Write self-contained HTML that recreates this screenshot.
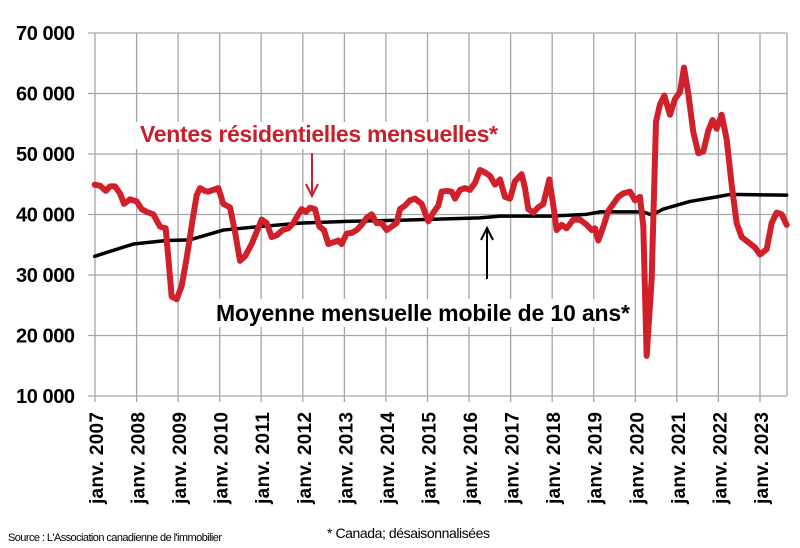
<!DOCTYPE html>
<html><head><meta charset="utf-8"><style>
html,body{margin:0;padding:0;background:#fff;}
svg{display:block;font-family:"Liberation Sans",sans-serif;}
</style></head><body>
<svg width="800" height="548" viewBox="0 0 800 548" xmlns="http://www.w3.org/2000/svg">
<rect width="800" height="548" fill="#fff"/>
<g stroke="#a6a6a6" stroke-width="1.3">
<line x1="88" y1="33" x2="787" y2="33"/><line x1="88" y1="93.5" x2="787" y2="93.5"/><line x1="88" y1="154" x2="787" y2="154"/><line x1="88" y1="214.5" x2="787" y2="214.5"/><line x1="88" y1="275" x2="787" y2="275"/><line x1="88" y1="335.5" x2="787" y2="335.5"/><line x1="88" y1="396" x2="787" y2="396"/>
<line x1="787" y1="33" x2="787" y2="396"/>
<line x1="95" y1="33" x2="95" y2="402"/><line x1="136.6" y1="33" x2="136.6" y2="402"/><line x1="178.1" y1="33" x2="178.1" y2="402"/><line x1="219.7" y1="33" x2="219.7" y2="402"/><line x1="261.2" y1="33" x2="261.2" y2="402"/><line x1="302.8" y1="33" x2="302.8" y2="402"/><line x1="344.4" y1="33" x2="344.4" y2="402"/><line x1="385.9" y1="33" x2="385.9" y2="402"/><line x1="427.5" y1="33" x2="427.5" y2="402"/><line x1="469" y1="33" x2="469" y2="402"/><line x1="510.6" y1="33" x2="510.6" y2="402"/><line x1="552.2" y1="33" x2="552.2" y2="402"/><line x1="593.7" y1="33" x2="593.7" y2="402"/><line x1="635.3" y1="33" x2="635.3" y2="402"/><line x1="676.8" y1="33" x2="676.8" y2="402"/><line x1="718.4" y1="33" x2="718.4" y2="402"/><line x1="760" y1="33" x2="760" y2="402"/>
</g>
<g font-weight="bold" font-size="20" text-anchor="end" fill="#000">
<text x="75" y="40" textLength="59">70 000</text><text x="75" y="100.5" textLength="59">60 000</text><text x="75" y="161" textLength="59">50 000</text><text x="75" y="221.5" textLength="59">40 000</text><text x="75" y="282" textLength="59">30 000</text><text x="75" y="342.5" textLength="59">20 000</text><text x="75" y="403" textLength="59">10 000</text>
</g>
<g font-weight="bold" font-size="19" fill="#000">
<text transform="translate(103,504) rotate(-90)" textLength="92">janv. 2007</text>
<text transform="translate(144.6,504) rotate(-90)" textLength="92">janv. 2008</text>
<text transform="translate(186.1,504) rotate(-90)" textLength="92">janv. 2009</text>
<text transform="translate(227.7,504) rotate(-90)" textLength="92">janv. 2010</text>
<text transform="translate(269.2,504) rotate(-90)" textLength="92">janv. 2011</text>
<text transform="translate(310.8,504) rotate(-90)" textLength="92">janv. 2012</text>
<text transform="translate(352.4,504) rotate(-90)" textLength="92">janv. 2013</text>
<text transform="translate(393.9,504) rotate(-90)" textLength="92">janv. 2014</text>
<text transform="translate(435.5,504) rotate(-90)" textLength="92">janv. 2015</text>
<text transform="translate(477,504) rotate(-90)" textLength="92">janv. 2016</text>
<text transform="translate(518.6,504) rotate(-90)" textLength="92">janv. 2017</text>
<text transform="translate(560.2,504) rotate(-90)" textLength="92">janv. 2018</text>
<text transform="translate(601.7,504) rotate(-90)" textLength="92">janv. 2019</text>
<text transform="translate(643.3,504) rotate(-90)" textLength="92">janv. 2020</text>
<text transform="translate(684.8,504) rotate(-90)" textLength="92">janv. 2021</text>
<text transform="translate(726.4,504) rotate(-90)" textLength="92">janv. 2022</text>
<text transform="translate(768,504) rotate(-90)" textLength="92">janv. 2023</text>
</g>
<rect x="136" y="122" width="366" height="27" fill="#fff"/>
<rect x="212" y="299" width="422" height="28" fill="#fff"/>
<g transform="matrix(0.33333,0,0,0.3494,0,-0.54)" fill="none" stroke-linejoin="round" stroke-linecap="round">
<polyline vector-effect="non-scaling-stroke" stroke="#000" stroke-width="3.5" points="284,735 400,700 500,690 570,688 670,660 780,650 900,640 1040,635 1200,632 1440,625 1500,620 1650,620 1760,615 1800,608 1930,608 1955,617 1990,600 2070,578 2150,565 2190,558 2360,560"/>
<polyline vector-effect="non-scaling-stroke" stroke="#d0202a" stroke-width="6" points="284,530 300,533 318,548 330,535 345,535 360,555 372,585 390,572 410,578 425,600 440,608 460,615 480,650 497,655 505,740 515,850 530,858 545,820 560,740 578,630 590,560 600,540 615,548 625,550 640,545 655,540 670,585 690,595 705,665 720,748 735,735 755,700 770,665 785,630 800,640 815,680 830,675 848,660 865,655 880,640 895,615 905,600 918,608 930,596 945,600 958,650 972,660 985,700 1000,695 1015,690 1025,700 1040,670 1055,668 1070,660 1085,645 1100,625 1115,615 1130,640 1145,640 1160,660 1175,650 1190,640 1200,600 1215,590 1230,575 1245,570 1265,585 1285,635 1300,610 1315,590 1325,550 1340,548 1355,550 1365,570 1380,545 1395,540 1410,545 1425,525 1440,488 1455,495 1470,505 1485,530 1500,515 1515,565 1530,570 1545,520 1565,500 1575,540 1585,600 1600,610 1615,595 1630,585 1648,515 1660,590 1670,660 1685,645 1700,655 1720,630 1740,630 1760,645 1775,660 1785,655 1795,690 1810,650 1825,605 1840,585 1855,565 1870,555 1890,550 1905,575 1920,565 1930,650 1940,1020 1955,800 1968,350 1980,300 1993,275 2010,330 2025,285 2040,265 2052,195 2065,270 2080,380 2095,440 2110,435 2125,375 2138,345 2150,370 2165,330 2180,400 2195,530 2210,640 2225,680 2245,695 2265,710 2280,730 2300,715 2315,640 2330,610 2345,615 2360,645"/>
</g>
<text x="140" y="142" font-weight="bold" font-size="23" fill="#c8202a" textLength="358">Ventes résidentielles mensuelles*</text>
<text x="216" y="321" font-weight="bold" font-size="23" fill="#000" textLength="414">Moyenne mensuelle mobile de 10 ans*</text>
<line x1="312" y1="153" x2="312" y2="194" stroke="#c8202a" stroke-width="2"/>
<polyline points="306,184 312,196 318,184" fill="none" stroke="#c8202a" stroke-width="2"/>
<line x1="487" y1="279" x2="487" y2="230" stroke="#000" stroke-width="2"/>
<polyline points="481,240 487,228 493,240" fill="none" stroke="#000" stroke-width="2"/>
<text x="8" y="541" font-size="11" fill="#000" textLength="214">Source : L'Association canadienne de l'immobilier</text>
<text x="327" y="538" font-size="14" fill="#000" textLength="163">* Canada; désaisonnalisées</text>
</svg>
</body></html>
